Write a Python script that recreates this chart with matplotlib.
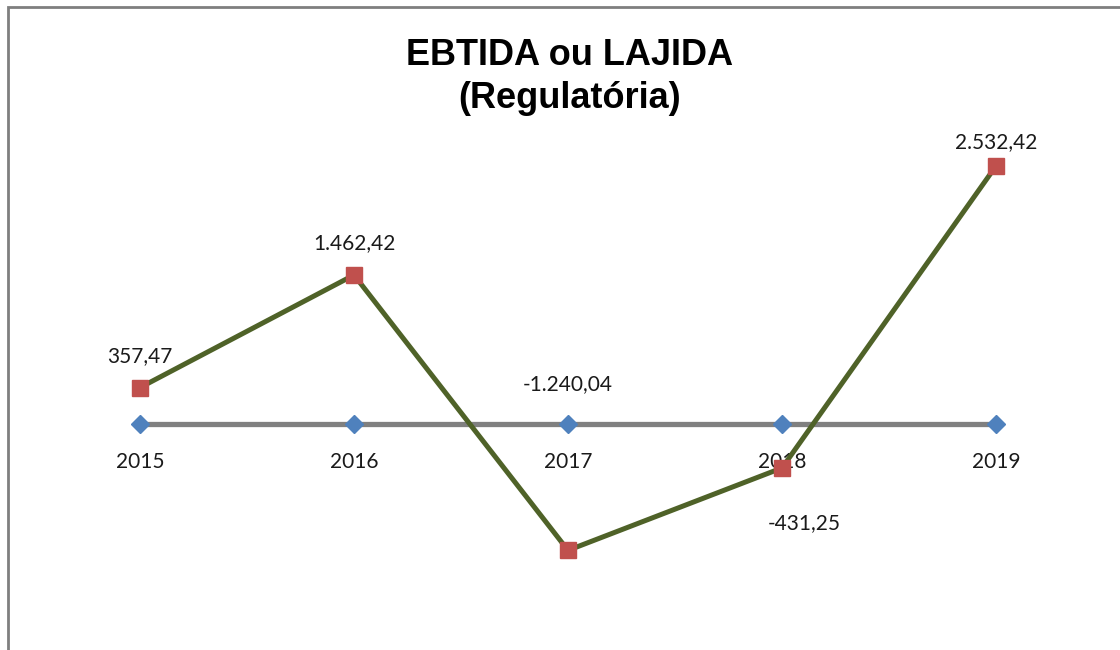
import matplotlib.pyplot as plt
from matplotlib.patches import Rectangle

anos = [2015, 2016, 2017, 2018, 2019]
ebtida = [357.47, 1462.42, -1240.04, -431.25, 2532.42]
zeros = [0, 0, 0, 0, 0]
rotulos = ["357,47", "1.462,42", "-1.240,04", "-431,25", "2.532,42"]
# deslocamento dos rotulos (pontos) como no Excel
desloc = [(0, 23), (0, 23), (0, 120), (16, -40), (0, 17)]


def main() -> None:
    fig = plt.figure(figsize=(11.2, 6.5), dpi=100)
    ax = fig.add_axes([0, 0, 1, 1])
    ax.set_xlim(2015 - 140 / 214, 2015 + 980 / 214)
    ax.set_ylim(-226 / 0.1019, 424 / 0.1019)
    ax.axis("off")

    # moldura do grafico
    fig.patches.append(Rectangle((7.5 / 1120, -0.1), 1.2, 1.1 - 7.5 / 650,
                                 transform=fig.transFigure, fill=False,
                                 edgecolor="#7f7f7f", linewidth=2))

    ax.plot(anos, zeros, "-D", color="#808080", linewidth=3.8,
            markerfacecolor="#4F81BD", markeredgecolor="#4F81BD",
            markersize=9, zorder=3)
    ax.plot(anos, ebtida, "-s", color="#4F6228", linewidth=3.6,
            markerfacecolor="#C0504D", markeredgecolor="#C0504D",
            markersize=12, zorder=4)

    fonte = "Lato"
    for ano in anos:
        ax.annotate(str(ano), (ano, 0), xytext=(0, -27),
                    textcoords="offset points", ha="center", va="center",
                    fontsize=15, family=fonte, color="#1a1a1a", zorder=2)
    for ano, v, txt, d in zip(anos, ebtida, rotulos, desloc):
        ax.annotate(txt, (ano, v), xytext=d, textcoords="offset points",
                    ha="center", va="center", fontsize=15, family=fonte,
                    color="#1a1a1a", zorder=2)

    fig.text(570 / 1120, 1 - 77 / 650, "EBTIDA ou LAJIDA\n(Regulatória)",
             ha="center", va="center", fontsize=26, fontweight="bold",
             family=["Liberation Sans Narrow", "Liberation Sans"],
             linespacing=1.32)

    fig.savefig("out.png", dpi=100)


if __name__ == "__main__":
    main()
